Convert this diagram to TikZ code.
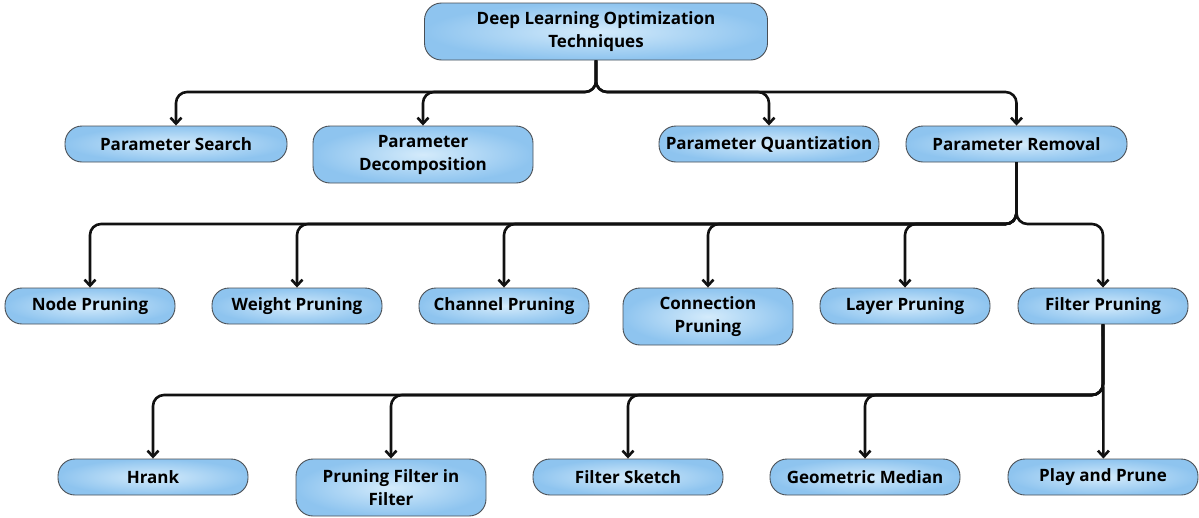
\documentclass[tikz,border=0pt]{standalone}
\usepackage{fontspec}
\setmainfont{Open Sans}
\usepackage{tikz}
\usepackage{xcolor}
\usetikzlibrary{arrows.meta,positioning,calc}
\definecolor{boxedge}{HTML}{4A4F55}
\definecolor{boxinner}{HTML}{D4EBFB}
\definecolor{boxouter}{HTML}{8EC4EF}
\definecolor{linkdark}{HTML}{111111}
\tikzset{
  techbox/.style={
    draw=boxedge,
    line width=0.9pt,
    shading=radial,
    inner color=boxinner,
    outer color=boxouter,
    rounded corners=17pt,
    align=center,
    inner sep=0pt,
    minimum height=36pt,
    font=\fontsize{17}{23}\selectfont\bfseries
  },
  tallbox/.style={techbox, minimum height=57pt},
  treearrow/.style={-{Straight Barb[length=6pt,width=11pt,line width=2.6pt]}, line width=2.6pt, draw=linkdark, rounded corners=11pt}
}

\begin{document}
\begin{tikzpicture}[x=1pt,y=-1pt]
\useasboundingbox (0,0) rectangle (1199,517);

% top
\node[techbox, minimum width=343pt, minimum height=57pt] (root) at (596,31.5) {Deep Learning Optimization\\Techniques};

% first level
\node[techbox, minimum width=222pt] (search) at (176,144) {Parameter Search};
\node[tallbox, minimum width=220pt] (decomp) at (423,154.5) {Parameter\\Decomposition};
\node[techbox, minimum width=220pt] (quant) at (769,144) {Parameter Quantization};
\node[techbox, minimum width=221pt] (removal) at (1016.5,144) {Parameter Removal};

% second level
\node[techbox, minimum width=170pt] (nodep) at (90,306) {Node Pruning};
\node[techbox, minimum width=170pt] (weight) at (297,306) {Weight Pruning};
\node[techbox, minimum width=170pt] (channel) at (504,306) {Channel Pruning};
\node[tallbox, minimum width=170pt] (connect) at (708,316.5) {Connection\\Pruning};
\node[techbox, minimum width=170pt] (layer) at (905,306) {Layer Pruning};
\node[techbox, minimum width=170pt] (filter) at (1103,306) {Filter Pruning};

% third level
\node[techbox, minimum width=190pt] (hrank) at (153,477) {Hrank};
\node[tallbox, minimum width=190pt] (pfif) at (391,487.5) {Pruning Filter in\\Filter};
\node[techbox, minimum width=190pt] (sketch) at (628,477) {Filter Sketch};
\node[techbox, minimum width=190pt] (median) at (865,477) {Geometric Median};
\node[techbox, minimum width=190pt] (play) at (1103,477) {Play and Prune};

\coordinate (busA) at (596,92);
\coordinate (busB) at (1016,224);
\coordinate (busC) at (1103,395);

\foreach \a in {search,decomp,quant,removal}
  \draw[treearrow] (root.south) |- (busA -| \a.north) -- (\a.north);
\foreach \a in {nodep,weight,channel,connect,layer,filter}
  \draw[treearrow] (removal.south) |- (busB -| \a.north) -- (\a.north);
\foreach \a in {hrank,pfif,sketch,median}
  \draw[treearrow] (filter.south) |- (busC -| \a.north) -- (\a.north);
\draw[treearrow] (filter.south) -- ([xshift=0.4pt]play.north);
\end{tikzpicture}
\end{document}
